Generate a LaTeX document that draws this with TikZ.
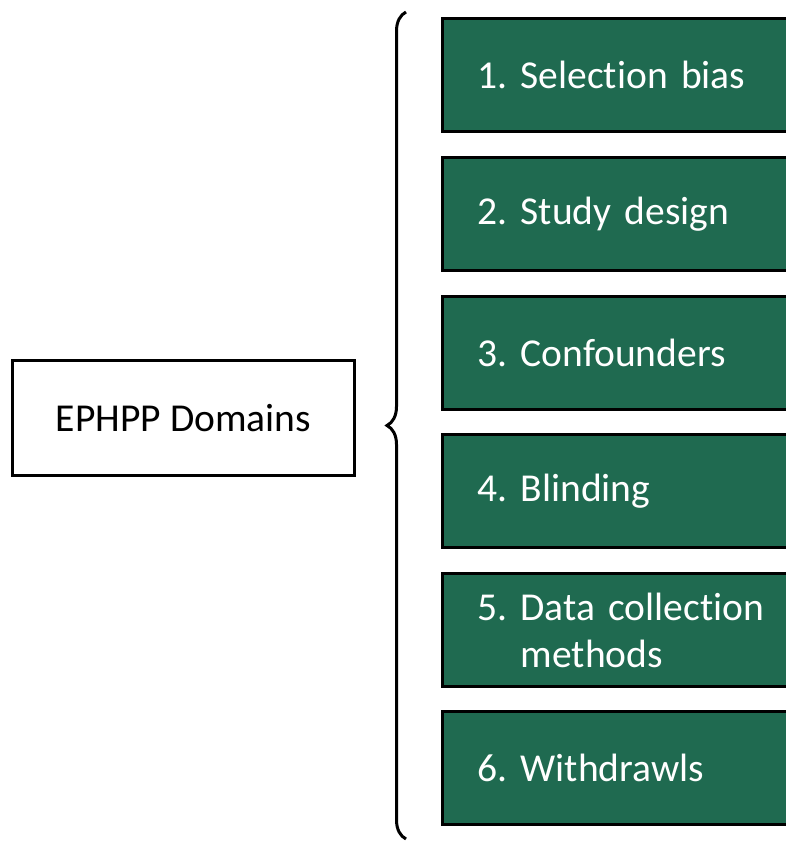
\documentclass[tikz,border=0pt]{standalone}
\usepackage{fontspec}
\setmainfont{Carlito}[Ligatures={NoCommon}]
\usetikzlibrary{decorations.pathreplacing}
\definecolor{domgreen}{RGB}{31,106,80}
\newcommand{\boxfont}{\fontsize{22.5pt}{26.7pt}\selectfont\spaceskip=0.23em plus 0.1em\relax}

\begin{document}
\frenchspacing
\begin{tikzpicture}[x=0.02cm, y=-0.02cm,
	every node/.style={font=\boxfont},
	mainbox/.style={draw=black, line width=0.06cm, inner sep=0pt, minimum width=6.86cm, minimum height=2.32cm},
	itembox/.style={draw=black, fill=domgreen, text=white, line width=0.06cm, anchor=west, inner xsep=0.70cm, inner ysep=0pt, text width=8cm, align=left, minimum height=2.28cm}]
	\useasboundingbox (0,0) rectangle (786,841);
	\clip (0,0) rectangle (786,841);
	\node[mainbox] (dom) at (183.5,418) {EPHPP Domains};
	\foreach \i/\y/\t in {1/75/1. Selection bias, 2/214/2. Study design, 3/353/3. Confounders, 4/491/4. Blinding, 5/630/5. Data collection\\\phantom{5. }methods, 6/768/6. Withdrawls} {
		\node[itembox] (d\i) at (441,\y) {\t};
	}
	\coordinate (btop) at (406,12);
	\coordinate (bbot) at (406,839);
	\draw[line width=0.06cm, decorate, decoration={brace, amplitude=0.38cm}] (bbot) -- (btop);
\end{tikzpicture}
\end{document}
